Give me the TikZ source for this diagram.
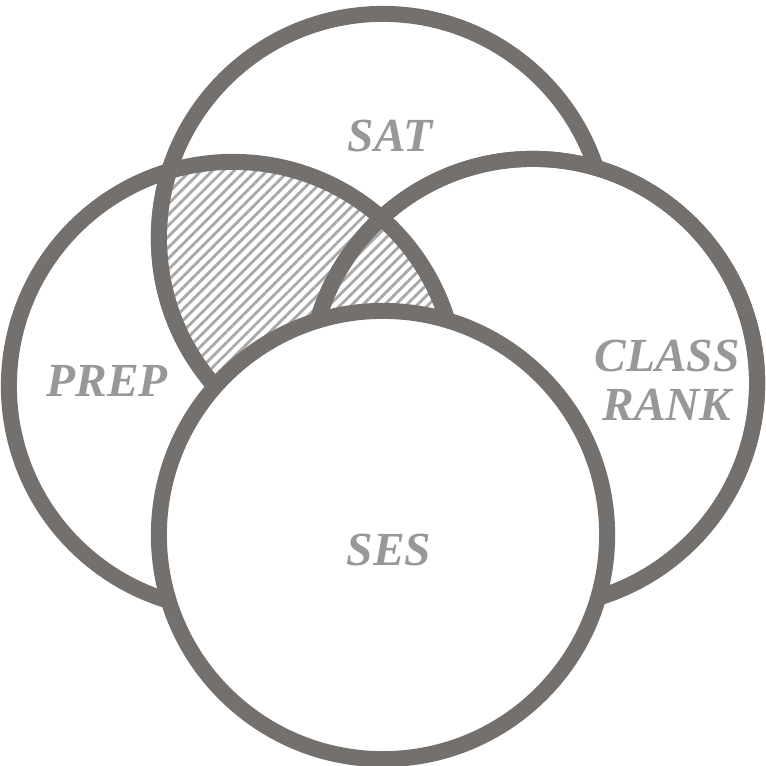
\documentclass[tikz,border=0pt]{standalone}
\usepackage{fontspec}
\setmainfont{Liberation Serif}
\usepackage{tikz}
\usetikzlibrary{patterns.meta,positioning}
\definecolor{ringgray}{RGB}{116,112,109}
\definecolor{labelgray}{RGB}{152,152,152}
\definecolor{hatchgray}{RGB}{168,168,168}
\tikzstyle{ring} = [draw=ringgray,line width=0.16cm]
\tikzstyle{setlabel} = [text=labelgray,font=\fontsize{13.5}{14}\selectfont\bfseries\itshape,align=center]
\tikzstyle{hatch} = [pattern={Lines[angle=45,distance=2.2pt,line width=0.8pt]},pattern color=hatchgray]
\tikzset{>=latex}

\begin{document}
\begin{tikzpicture}[x=0.01cm,y=-0.01cm]
    \useasboundingbox (0,0) rectangle (766,766);
    \coordinate (sat) at (383,238);
    \coordinate (prep) at (233,386);
    \coordinate (rank) at (533,383);
    \coordinate (ses) at (383,535);
    % outlines, back to front
    \draw [ring] (sat) circle [radius=2.24cm];
    \filldraw [ring,fill=white] (rank) circle [radius=2.24cm];
    \begin{scope}
      \clip (sat) circle [radius=2.24cm];
      \fill [hatch] (prep) circle [radius=2.24cm];
    \end{scope}
    \begin{scope}
      \clip (prep) circle [radius=2.24cm];
      \draw [ring] (sat) circle [radius=2.24cm];
    \end{scope}
    \draw [ring] (prep) circle [radius=2.24cm];
    \draw [ring] (rank) circle [radius=2.24cm];
    \filldraw [ring,fill=white] (ses) circle [radius=2.24cm];
    % labels
    \node [setlabel] (satlabel) at (390,136) {SAT};
    \node [setlabel] (preplabel) at (107,381) {PREP};
    \node [setlabel] (ranklabel) at (667,380) {CLASS\\RANK};
    \node [setlabel] (seslabel) at (389,550) {SES};
  \end{tikzpicture}
\end{document}
